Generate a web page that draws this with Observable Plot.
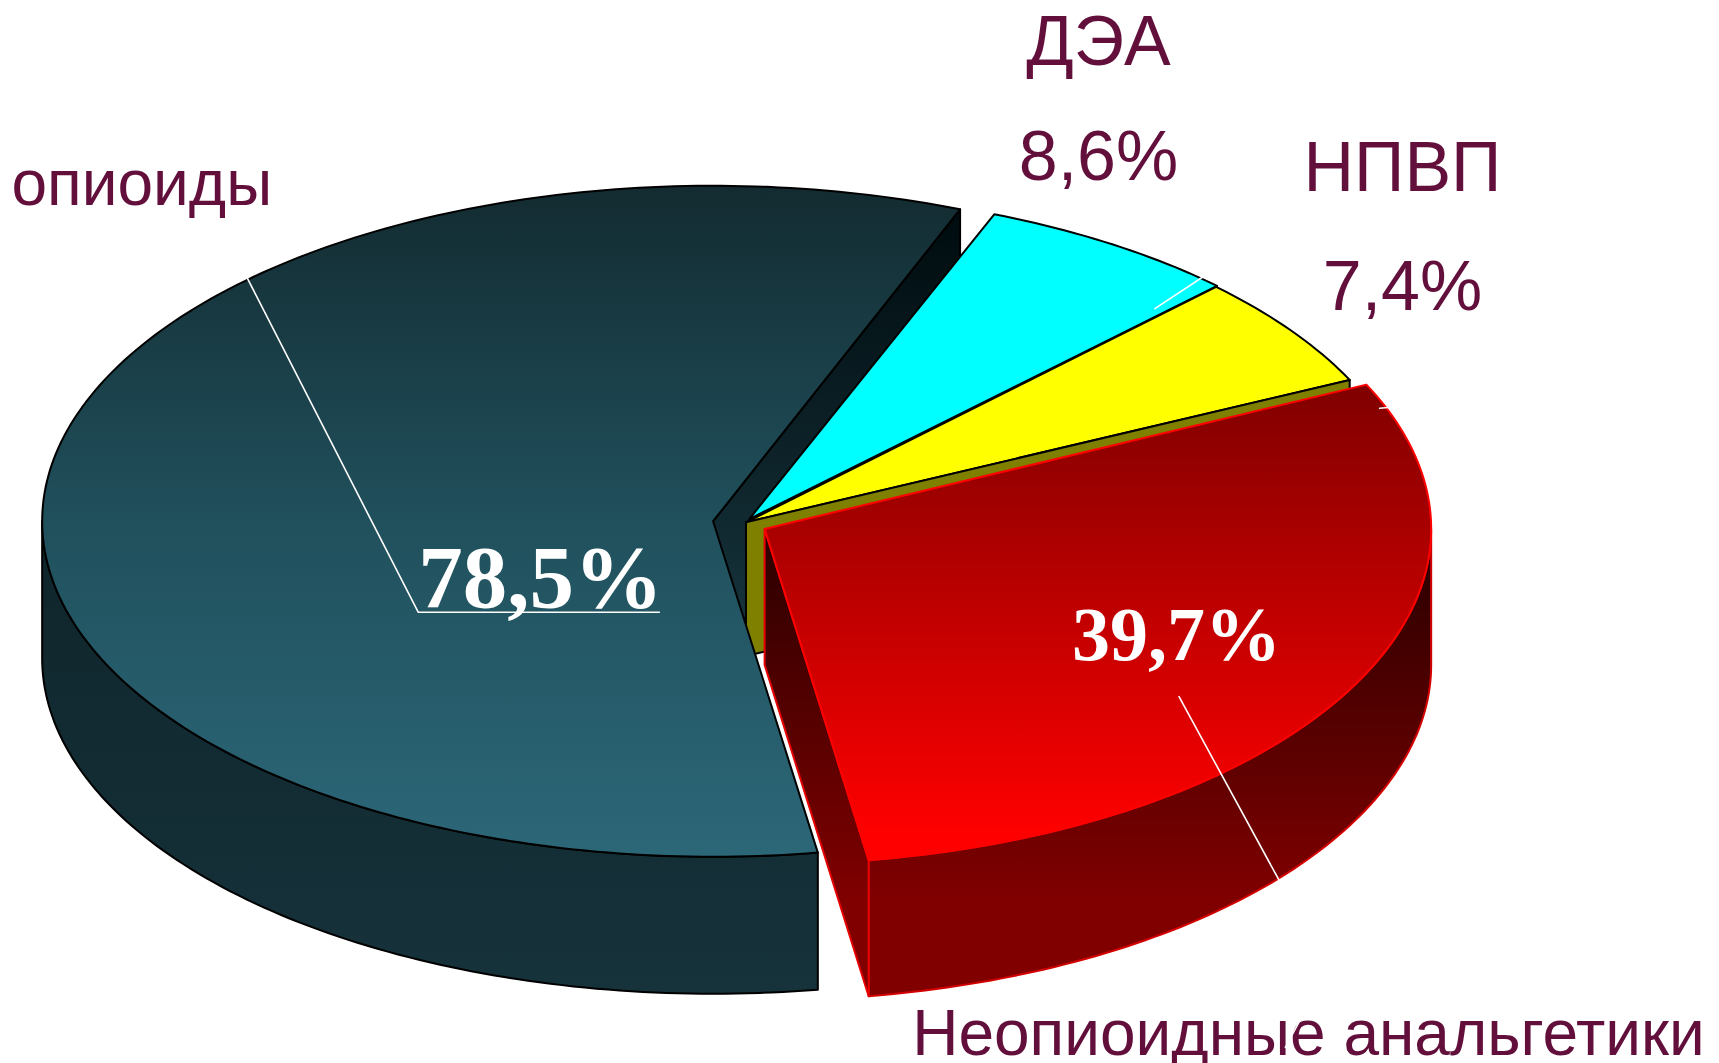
<!DOCTYPE html>
<html>
<head>
<meta charset="utf-8">
<script src="https://cdn.jsdelivr.net/npm/d3@7"></script>
<script src="https://cdn.jsdelivr.net/npm/@observablehq/plot@0.6"></script>
<style>
html,body{margin:0;padding:0;background:#fff;overflow:hidden}
svg{display:block}
</style>
</head>
<body>
<div id="chart"></div>
<script>
// --- data ---
const categories = ["ДЭА", "НПВП", "Неопиоидные анальгетики", "опиоиды"];
const values = [8.6, 7.4, 39.7, 78.5];
const valueLabels = ["8,6%", "7,4%", "39,7%", "78,5%"];

// --- layout (pixels) ---
const S = 1719 / 1568;
const W = 1719, H = 1063;
const startAngle = 21.6;
const placement = [
  {cx: 683 * S, cy: 473 * S, rx: 607 * S, ry: 299 * S, depth: 122 * S},
  {cx: 680 * S, cy: 476 * S, rx: 610 * S, ry: 302 * S, depth: 122 * S},
  {cx: 697 * S, cy: 482 * S, rx: 608 * S, ry: 306 * S, depth: 124 * S},
  {cx: 650 * S, cy: 475 * S, rx: 612 * S, ry: 306 * S, depth: 125 * S}
];

// --- slices from values ---
const total = d3.sum(values);
let acc = startAngle;
const slices = values.map((v, i) => {
  const a0 = acc, a1 = acc + v / total * 360;
  acc = a1;
  return {...placement[i], a0, a1, name: categories[i]};
});
const pt = (s, t, dz = 0) => {
  const r = t * Math.PI / 180;
  return [s.cx + s.rx * Math.sin(r), s.cy - s.ry * Math.cos(r) + dz];
};
const arc = (s, t0, t1, dz = 0) => {
  const n = Math.max(2, Math.ceil(Math.abs(t1 - t0)));
  return d3.range(n + 1).map(i => pt(s, t0 + (t1 - t0) * i / n, dz));
};
const apex = (s, dz = 0) => [s.cx, s.cy + dz];
const topFace = s => [apex(s), ...arc(s, s.a0, s.a1), apex(s)];
const outerWall = (s, t0, t1) => [...arc(s, t0, t1), ...arc(s, t1, t0, s.depth), pt(s, t0)];
const cutWall = (s, t) => [apex(s), pt(s, t), pt(s, t, s.depth), apex(s, s.depth), apex(s)];

const [cyan, yellow, red, opioid] = slices;
const poly = (pts, fill, stroke, strokeWidth) =>
  Plot.line(pts, {x: d => d[0], y: d => d[1], fill, stroke, strokeWidth, strokeLinejoin: "round", curve: "linear"});

const gradient = (id, stops, y1, y2) =>
  `<linearGradient id="${id}" gradientUnits="userSpaceOnUse" x1="0" x2="0" y1="${y1}" y2="${y2}">` +
  stops.map(([o, c]) => `<stop offset="${o}" stop-color="${c}"/>`).join("") + `</linearGradient>`;

const defs = () => {
  const g = document.createElementNS("http://www.w3.org/2000/svg", "defs");
  g.innerHTML =
    gradient("opTop", [[0, "#132b31"], [0.5, "#20505c"], [1, "#2c6778"]], 185, 855) +
    gradient("opSide", [[0, "#0f242a"], [1, "#16323b"]], 500, 990) +
    gradient("opCut", [[0, "#000c0f"], [1, "#18363f"]], 215, 660) +
    gradient("redTop", [[0, "#800000"], [1, "#ff0000"]], 385, 835) +
    gradient("redCut", [[0, "#2a0000"], [1, "#800000"]], 530, 900) +
    gradient("redSide", [[0, "#2e0000"], [1, "#800000"]], 560, 900);
  return g;
};

// --- annotation geometry ---
const leaders = [
  [[225 * S, 253 * S], [381 * S, 558 * S], [601 * S, 558 * S]],
  [[1075 * S, 635 * S], [1166 * S, 802 * S]],
  [[1053 * S, 281 * S], [1097 * S, 252 * S]],
  [[1258 * S, 372 * S], [1268 * S, 371 * S]]
];
const noteSlash = [[1187 * S, 927 * S], [1172 * S, 955 * S]];
const sansColor = "#630f3c";
const sans = (text, x, y, fontSize, textAnchor = "middle") =>
  Plot.text([text], {x: () => x, y: () => y, text: d => d, fontSize, textAnchor, lineAnchor: "bottom",
    fill: sansColor, fontFamily: "Liberation Sans"});
const serif = (text, x, y, fontSize) =>
  Plot.text([text], {x: () => x, y: () => y, text: d => d, fontSize, textAnchor: "middle", lineAnchor: "bottom",
    fill: "#fff", fontWeight: "bold", fontFamily: "Liberation Serif"});

const chart = Plot.plot({
  width: W, height: H,
  margin: 0,
  x: {domain: [0, W], range: [0, W], axis: null},
  y: {domain: [0, H], range: [0, H], axis: null},
  style: {background: "#fff"},
  marks: [
    defs,
    poly(cutWall(opioid, opioid.a1 - 360), "url(#opCut)", "#000", 2),
    poly(topFace(cyan), "#00ffff", "#000", 2),
    poly(topFace(yellow), "#ffff00", "#000", 2),
    poly(cutWall(yellow, yellow.a1), "#808000", "#000", 2),
    poly(outerWall(opioid, opioid.a0, 270), "url(#opSide)", "#000", 2),
    poly(topFace(opioid), "url(#opTop)", "#000", 2),
    poly(outerWall(red, 90, red.a1), "url(#redSide)", "#d40000", 2),
    poly(cutWall(red, red.a1), "url(#redCut)", "#e60000", 2),
    poly(topFace(red), "url(#redTop)", "#ff0000", 2),
    ...leaders.map(l => Plot.line(l, {x: d => d[0], y: d => d[1], stroke: "#fff", strokeWidth: 1.6})),
    sans(categories[0], 1098, 64, 70),
    sans(valueLabels[0], 1098, 179, 70),
    sans(categories[1], 1402, 190, 70),
    sans(valueLabels[1], 1402, 309, 70),
    sans(categories[3], 11, 204, 64, "start"),
    sans(categories[2], 1308, 1054, 64),
    Plot.line(noteSlash, {x: d => d[0], y: d => d[1], stroke: "#fff", strokeWidth: 1.6}),
    serif(valueLabels[3], 540, 606, 89),
    serif(valueLabels[2], 1176, 659, 76)
  ]
});
document.getElementById("chart").append(chart);
</script>
</body>
</html>
